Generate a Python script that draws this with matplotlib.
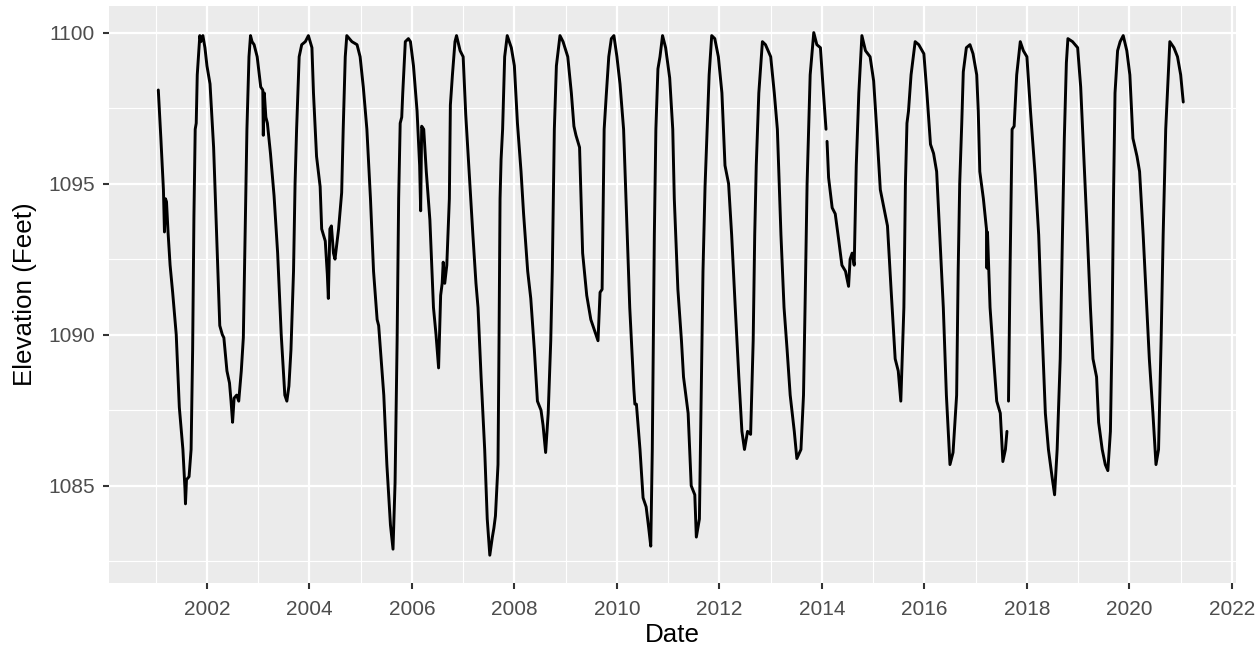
import numpy as np
import pandas as pd
import matplotlib
matplotlib.use("Agg")
import matplotlib.pyplot as plt

# decimal year and lake elevation (feet)
year = [
    2001.05, 2001.10, 2001.15, 2001.17, 2001.19, 2001.21, 2001.24, 2001.28, 2001.33, 2001.40,
    2001.46, 2001.53, 2001.57, 2001.58, 2001.60, 2001.65, 2001.69, 2001.72, 2001.745, 2001.77,
    2001.79, 2001.81, 2001.86, 2001.88, 2001.92, 2001.96, 2002.00, 2002.06, 2002.07, 2002.13,
    2002.19, 2002.25, 2002.30, 2002.33, 2002.39, 2002.44, 2002.47, 2002.50, 2002.53, 2002.58,
    2002.62, 2002.67, 2002.71, 2002.745, 2002.78, 2002.82, 2002.85, 2002.88, 2002.92, 2002.98,
    2003.05, 2003.09, 2003.10, 2003.12, 2003.15, 2003.18, 2003.24, 2003.31, 2003.38, 2003.45,
    2003.52, 2003.56, 2003.60, 2003.64, 2003.69, 2003.72, 2003.75, 2003.80, 2003.85, 2003.92,
    2003.98, 2004.05, 2004.08, 2004.14, 2004.21, 2004.24, 2004.31, 2004.35, 2004.37, 2004.40,
    2004.43, 2004.47, 2004.50, 2004.57, 2004.63, 2004.66, 2004.70, 2004.73, 2004.83, 2004.93,
    2004.99, 2005.05, 2005.12, 2005.19, 2005.25, 2005.32, 2005.35, 2005.38, 2005.45, 2005.51,
    2005.58, 2005.63, 2005.67, 2005.71, 2005.74, 2005.77, 2005.80, 2005.82, 2005.87, 2005.93,
    2005.97, 2006.03, 2006.10, 2006.15, 2006.17, 2006.19, 2006.23, 2006.28, 2006.35, 2006.42,
    2006.47, 2006.52, 2006.56, 2006.59, 2006.61, 2006.64, 2006.68, 2006.73, 2006.75, 2006.79,
    2006.84, 2006.87, 2006.94, 2007.00, 2007.05, 2007.13, 2007.19, 2007.25, 2007.29, 2007.35,
    2007.42, 2007.47, 2007.52, 2007.57, 2007.60, 2007.63, 2007.68, 2007.70, 2007.72, 2007.74,
    2007.77, 2007.81, 2007.86, 2007.94, 2008.00, 2008.06, 2008.13, 2008.18, 2008.26, 2008.32,
    2008.39, 2008.45, 2008.52, 2008.56, 2008.61, 2008.66, 2008.71, 2008.74, 2008.78, 2008.82,
    2008.89, 2008.95, 2009.04, 2009.11, 2009.16, 2009.20, 2009.27, 2009.33, 2009.41, 2009.49,
    2009.59, 2009.63, 2009.67, 2009.71, 2009.75, 2009.79, 2009.84, 2009.89, 2009.94, 2010.00,
    2010.06, 2010.13, 2010.19, 2010.25, 2010.33, 2010.35, 2010.38, 2010.45, 2010.51, 2010.57,
    2010.62, 2010.66, 2010.69, 2010.71, 2010.73, 2010.76, 2010.80, 2010.84, 2010.89, 2010.95,
    2011.03, 2011.09, 2011.12, 2011.19, 2011.26, 2011.30, 2011.39, 2011.45, 2011.52, 2011.55,
    2011.61, 2011.65, 2011.68, 2011.72, 2011.76, 2011.80, 2011.85, 2011.91, 2011.98, 2012.05,
    2012.11, 2012.18, 2012.24, 2012.31, 2012.38, 2012.44, 2012.49, 2012.55, 2012.61, 2012.66,
    2012.69, 2012.72, 2012.77, 2012.84, 2012.90, 2013.00, 2013.07, 2013.13, 2013.20, 2013.26,
    2013.32, 2013.38, 2013.46, 2013.51, 2013.59, 2013.64, 2013.67, 2013.71, 2013.74, 2013.77,
    2013.84, 2013.90, 2013.97, 2014.03, 2014.08, 2014.09, 2014.10, 2014.13, 2014.20, 2014.26,
    2014.33, 2014.39, 2014.46, 2014.52, 2014.55, 2014.59, 2014.63, 2014.67, 2014.72, 2014.78,
    2014.85, 2014.94, 2015.01, 2015.07, 2015.14, 2015.21, 2015.28, 2015.35, 2015.43, 2015.49,
    2015.54, 2015.60, 2015.63, 2015.66, 2015.69, 2015.74, 2015.82, 2015.89, 2015.99, 2016.05,
    2016.12, 2016.18, 2016.24, 2016.30, 2016.37, 2016.43, 2016.50, 2016.56, 2016.63, 2016.66,
    2016.69, 2016.73, 2016.76, 2016.82, 2016.89, 2016.95, 2017.02, 2017.05, 2017.08, 2017.15,
    2017.21, 2017.22, 2017.23, 2017.28, 2017.35, 2017.41, 2017.48, 2017.53, 2017.58, 2017.61,
    2017.625, 2017.64, 2017.67, 2017.71, 2017.75, 2017.80, 2017.87, 2017.93, 2018.00, 2018.07,
    2018.16, 2018.23, 2018.29, 2018.36, 2018.42, 2018.49, 2018.54, 2018.59, 2018.65, 2018.69,
    2018.73, 2018.77, 2018.80, 2018.89, 2018.99, 2019.05, 2019.12, 2019.18, 2019.24, 2019.29,
    2019.36, 2019.40, 2019.47, 2019.53, 2019.58, 2019.63, 2019.66, 2019.69, 2019.72, 2019.77,
    2019.82, 2019.88, 2019.95, 2020.01, 2020.07, 2020.15, 2020.20, 2020.27, 2020.34, 2020.39,
    2020.46, 2020.52, 2020.57, 2020.62, 2020.66, 2020.71, 2020.76, 2020.79, 2020.87, 2020.94,
    2021.00, 2021.05,
]
elevation = [
    1098.1, 1096.5, 1094.8, 1093.4, 1094.5, 1094.4, 1093.4, 1092.3, 1091.4, 1090.0,
    1087.6, 1086.2, 1084.9, 1084.4, 1085.2, 1085.3, 1086.2, 1089.5, 1093.9, 1096.8,
    1097.0, 1098.6, 1099.9, 1099.7, 1099.9, 1099.5, 1098.9, 1098.3, 1098.0, 1096.2,
    1093.3, 1090.3, 1090.0, 1089.9, 1088.8, 1088.4, 1087.8, 1087.1, 1087.9, 1088.0,
    1087.8, 1088.8, 1089.9, 1093.3, 1096.8, 1099.2, 1099.9, 1099.7, 1099.6, 1099.2,
    1098.2, 1098.1, 1096.6, 1098.0, 1097.2, 1097.0, 1096.0, 1094.6, 1092.7, 1090.0,
    1088.0, 1087.8, 1088.3, 1089.5, 1092.1, 1095.0, 1096.8, 1099.2, 1099.6, 1099.7,
    1099.9, 1099.5, 1098.0, 1095.9, 1094.9, 1093.5, 1093.1, 1092.0, 1091.2, 1093.5,
    1093.6, 1092.7, 1092.5, 1093.5, 1094.7, 1096.8, 1099.2, 1099.9, 1099.7, 1099.6,
    1099.2, 1098.2, 1096.8, 1094.5, 1092.1, 1090.5, 1090.3, 1089.6, 1088.0, 1085.7,
    1083.7, 1082.9, 1085.1, 1089.8, 1094.5, 1097.0, 1097.2, 1098.0, 1099.7, 1099.8,
    1099.7, 1098.9, 1097.4, 1095.6, 1094.1, 1096.9, 1096.8, 1095.4, 1093.8, 1090.9,
    1090.0, 1088.9, 1091.3, 1091.7, 1092.4, 1091.7, 1092.3, 1094.5, 1097.6, 1098.6,
    1099.7, 1099.9, 1099.4, 1099.2, 1097.3, 1095.0, 1093.3, 1091.7, 1090.9, 1088.6,
    1086.2, 1083.9, 1082.7, 1083.3, 1083.6, 1084.0, 1085.7, 1089.8, 1094.5, 1095.8,
    1096.8, 1099.2, 1099.9, 1099.5, 1098.9, 1097.0, 1095.4, 1094.0, 1092.1, 1091.2,
    1089.5, 1087.8, 1087.5, 1087.0, 1086.1, 1087.4, 1089.8, 1092.1, 1096.8, 1098.9,
    1099.9, 1099.7, 1099.2, 1098.0, 1096.9, 1096.6, 1096.2, 1092.7, 1091.3, 1090.5,
    1090.0, 1089.8, 1091.4, 1091.5, 1096.8, 1097.9, 1099.2, 1099.8, 1099.9, 1099.2,
    1098.3, 1096.8, 1093.9, 1090.9, 1088.2, 1087.7, 1087.7, 1086.2, 1084.6, 1084.3,
    1083.6, 1083.0, 1086.2, 1089.8, 1093.3, 1096.8, 1098.8, 1099.2, 1099.9, 1099.5,
    1098.5, 1096.8, 1094.5, 1091.5, 1089.8, 1088.6, 1087.4, 1085.0, 1084.7, 1083.3,
    1083.9, 1088.6, 1092.1, 1094.9, 1096.8, 1098.6, 1099.9, 1099.8, 1099.2, 1098.0,
    1095.6, 1095.0, 1093.3, 1090.9, 1088.6, 1086.8, 1086.2, 1086.8, 1086.7, 1089.8,
    1093.3, 1095.6, 1098.0, 1099.7, 1099.6, 1099.2, 1098.0, 1096.8, 1093.3, 1090.9,
    1089.5, 1088.0, 1086.8, 1085.9, 1086.2, 1088.0, 1090.9, 1095.0, 1096.8, 1098.6,
    1100.0, 1099.6, 1099.5, 1098.0, 1096.8, np.nan, 1096.4, 1095.2, 1094.2, 1094.0,
    1093.1, 1092.3, 1092.1, 1091.6, 1092.5, 1092.7, 1092.3, 1095.6, 1098.0, 1099.9,
    1099.4, 1099.2, 1098.4, 1096.8, 1094.8, 1094.2, 1093.6, 1091.5, 1089.2, 1088.8,
    1087.8, 1090.9, 1095.0, 1097.0, 1097.4, 1098.6, 1099.7, 1099.6, 1099.3, 1098.0,
    1096.3, 1096.0, 1095.4, 1093.3, 1090.9, 1088.0, 1085.7, 1086.1, 1088.0, 1092.1,
    1095.0, 1097.0, 1098.7, 1099.5, 1099.6, 1099.3, 1098.6, 1097.4, 1095.4, 1094.5,
    1093.5, 1092.2, 1093.4, 1090.9, 1089.2, 1087.8, 1087.4, 1085.8, 1086.2, 1086.8,
    np.nan, 1087.8, 1092.1, 1096.8, 1096.9, 1098.6, 1099.7, 1099.4, 1099.2, 1097.4,
    1095.3, 1093.3, 1090.4, 1087.4, 1086.2, 1085.3, 1084.7, 1086.2, 1089.2, 1093.0,
    1096.5, 1099.0, 1099.8, 1099.7, 1099.5, 1098.2, 1095.6, 1093.3, 1090.9, 1089.2,
    1088.6, 1087.1, 1086.2, 1085.7, 1085.5, 1086.8, 1089.8, 1094.5, 1098.0, 1099.4,
    1099.7, 1099.9, 1099.4, 1098.6, 1096.5, 1095.9, 1095.4, 1093.3, 1090.9, 1089.2,
    1087.4, 1085.7, 1086.2, 1089.8, 1093.3, 1096.8, 1098.6, 1099.7, 1099.5, 1099.2,
    1098.6, 1097.7,
]
x_tick_years = list(range(2002, 2023, 2))
x_minor_years = list(range(2001, 2022, 2))
y_ticks = [1085, 1090, 1095, 1100]
y_minor = [1082.5, 1087.5, 1092.5, 1097.5]


def to_date(y):
    y = np.asarray(y, dtype=float)
    base = pd.to_datetime(np.floor(y).astype(int).astype(str) + "-01-01")
    return base + pd.to_timedelta((y - np.floor(y)) * 365.25, unit="D")


dates = to_date(year)

plt.rcParams["font.family"] = ["Liberation Sans", "DejaVu Sans"]
fig = plt.figure(figsize=(12.6, 6.47), dpi=100)
ax = fig.add_axes([109 / 1260, 1 - 583 / 647, (1236 - 109) / 1260, (583 - 6) / 647])

ax.set_facecolor("#EBEBEB")
for s in ax.spines.values():
    s.set_visible(False)

ax.plot(dates, elevation, color="black", linewidth=2.1, zorder=3,
        solid_joinstyle="round", solid_capstyle="round")

# date axis
x0, x1 = to_date([2000.09, 2022.08])
ax.set_xlim(x0, x1)
ax.set_xticks(to_date(x_tick_years))
ax.set_xticks(to_date(x_minor_years), minor=True)
ax.set_xticklabels([str(t) for t in x_tick_years])

ax.set_ylim(1081.78, 1100.88)
ax.set_yticks(y_ticks)
ax.set_yticks(y_minor, minor=True)

ax.grid(which="major", color="white", linewidth=1.6, zorder=0)
ax.grid(which="minor", color="white", linewidth=0.8, zorder=0)
ax.set_axisbelow(True)

ax.tick_params(which="major", length=4.5, width=1.5, color="#333333",
               labelsize=15, labelcolor="#4D4D4D", pad=5.5)
ax.tick_params(axis="x", which="major", pad=7.5)
ax.tick_params(which="minor", length=0)

ax.set_xlabel("Date", fontsize=18.7, color="black", labelpad=3)
ax.set_ylabel("Elevation (Feet)", fontsize=18.7, color="black", labelpad=8)

fig.savefig("out.png", dpi=100, facecolor="white")
